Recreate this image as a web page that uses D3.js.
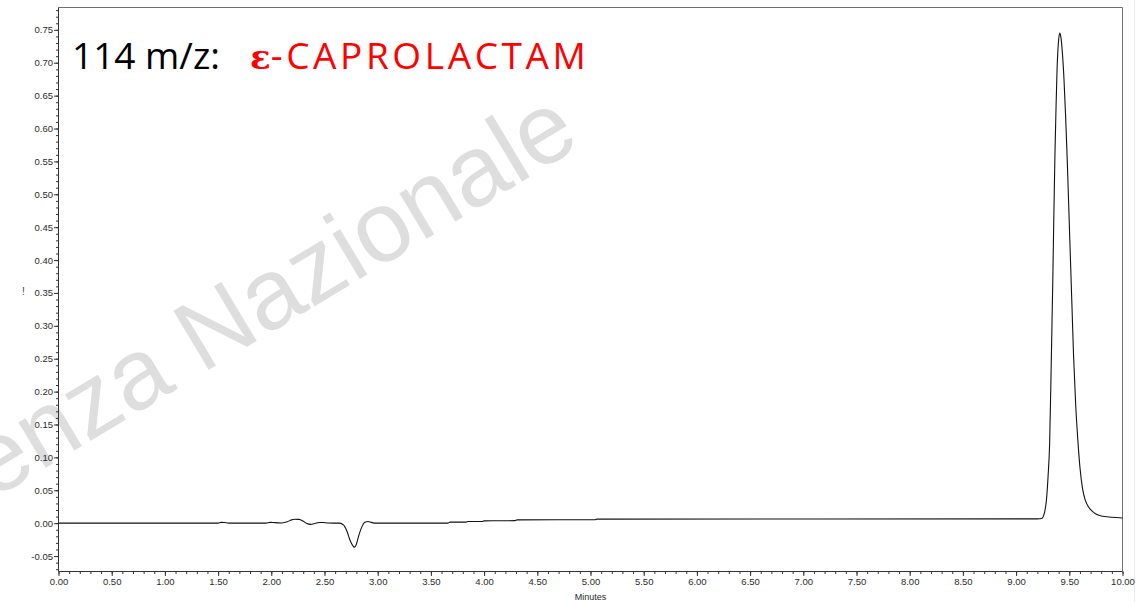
<!DOCTYPE html>
<html>
<head>
<meta charset="utf-8">
<script src="https://cdn.jsdelivr.net/npm/d3@7"></script>
<style>
  body { margin: 0; background: #fff; }
  svg { display: block; }
</style>
</head>
<body>
<div id="chart"></div>
<script>
// Chromatogram trace: retention time (minutes) and signal
const times = [0, 1.50, 1.53, 1.56, 1.60, 1.95, 1.99, 2.02, 2.06, 2.10, 2.15, 2.19, 2.22, 2.26, 2.30, 2.33, 2.37, 2.41, 2.45, 2.49, 2.53, 2.64,
  2.68, 2.71, 2.74, 2.765, 2.78, 2.795, 2.82, 2.85, 2.88, 2.91, 2.94, 2.98, 3.66, 3.68, 3.83, 3.85, 3.98, 4.00, 4.29, 4.31, 5.04, 5.06,
  9.20, 9.24, 9.265, 9.285, 9.30, 9.315, 9.33, 9.345, 9.355, 9.365, 9.375, 9.385, 9.40, 9.41, 9.42, 9.435, 9.45, 9.465, 9.48, 9.495,
  9.51, 9.525, 9.54, 9.56, 9.58, 9.60, 9.625, 9.65, 9.68, 9.71, 9.75, 9.80, 9.90, 10.0]
const signal = [0, 0, 0.0012, 0.001, 0, 0, 0.0012, 0.001, 0.0005, 0.0003, 0.002, 0.005, 0.006, 0.0058, 0.003, 0.0, -0.0018, -0.0005, 0.001, 0.001, 0.0002, 0,
  -0.003, -0.012, -0.026, -0.034, -0.0365, -0.034, -0.02, -0.006, 0.0015, 0.0025, 0.0012, 0, 0, 0.0015, 0.0015, 0.0025, 0.0025, 0.0035, 0.0038, 0.005, 0.0052, 0.0062,
  0.0065, 0.0072, 0.015, 0.035, 0.07, 0.12, 0.24, 0.37, 0.47, 0.56, 0.63, 0.69, 0.735, 0.745, 0.74, 0.715, 0.675, 0.62, 0.555, 0.48,
  0.405, 0.33, 0.255, 0.18, 0.127, 0.085, 0.052, 0.035, 0.025, 0.019, 0.014, 0.011, 0.009, 0.0078]

// Axis ticks
const xTicks = [0, 0.5, 1, 1.5, 2, 2.5, 3, 3.5, 4, 4.5, 5, 5.5, 6, 6.5, 7, 7.5, 8, 8.5, 9, 9.5, 10]
const yTicks = [-0.05, 0, 0.05, 0.1, 0.15, 0.2, 0.25, 0.3, 0.35, 0.4, 0.45, 0.5, 0.55, 0.6, 0.65, 0.7, 0.75]
const xLabel = "Minutes"
const titleMass = "114 m/z:"
const titleEps = "\u03b5"
const titleName = "-CAPROLACTAM"
const watermark = "enza Nazionale"

const WIDTH = 1147
const HEIGHT = 602
const PLOT = {LEFT: 58.5, RIGHT: 1122.5, TOP: 7.5, BOTTOM: 571.5}

const data = times.map((t, i) => ({t: t, v: signal[i]}))

let svg = d3.select("#chart").append("svg")
    .attr("width", WIDTH)
    .attr("height", HEIGHT)

// watermark behind everything
svg.append("text")
    .attr("transform", "translate(-8,500) rotate(-31)")
    .attr("font-family", "Liberation Sans, Arial, sans-serif")
    .attr("font-size", 100)
    .attr("fill", "#dedede")
    .text(watermark)

// faint outer edge on the right
svg.append("line")
    .attr("x1", 1134.5).attr("x2", 1134.5)
    .attr("y1", 0).attr("y2", HEIGHT)
    .attr("stroke", "#ececec")

let xScale = d3.scaleLinear()
    .domain([0, 10])
    .range([PLOT.LEFT, PLOT.RIGHT])

let yScale = d3.scaleLinear()
    .domain([-0.0735, 0.784])
    .range([PLOT.BOTTOM, PLOT.TOP])

// plot frame (top and right)
svg.append("path")
    .attr("d", `M${PLOT.LEFT},${PLOT.TOP}H${PLOT.RIGHT}V${PLOT.BOTTOM}`)
    .attr("fill", "none")
    .attr("stroke", "#6f6f6f")

const fmt = d => d.toFixed(2)

// minor ticks
svg.append("g")
    .attr("transform", `translate(0,${PLOT.BOTTOM})`)
    .call(d3.axisBottom(xScale).tickValues(d3.range(0, 10.01, 0.1)).tickSize(2.5).tickFormat(""))
    .call(g => g.select(".domain").remove())
svg.append("g")
    .attr("transform", `translate(${PLOT.LEFT},0)`)
    .call(d3.axisLeft(yScale).tickValues(d3.range(-0.07, 0.781, 0.01)).tickSize(2.5).tickFormat(""))
    .call(g => g.select(".domain").remove())

// major axes
let xAxis = svg.append("g")
    .attr("transform", `translate(0,${PLOT.BOTTOM})`)
    .call(d3.axisBottom(xScale).tickValues(xTicks).tickSize(4.5).tickSizeOuter(0).tickPadding(2).tickFormat(fmt))
let yAxis = svg.append("g")
    .attr("transform", `translate(${PLOT.LEFT},0)`)
    .call(d3.axisLeft(yScale).tickValues(yTicks).tickSize(4.5).tickSizeOuter(0).tickPadding(1).tickFormat(fmt))

yAxis.select(".domain").attr("d", `M0,${PLOT.TOP}V${PLOT.BOTTOM}`)
xAxis.select(".domain").attr("d", `M${PLOT.LEFT},0H${PLOT.RIGHT}`)

svg.selectAll(".tick line").attr("stroke", "#333")
svg.selectAll(".domain").attr("stroke", "#333")
svg.selectAll(".tick text")
    .attr("font-family", "Liberation Sans, Arial, sans-serif")
    .attr("font-size", 9.5)
    .attr("fill", "#2a2a2a")

// axis titles
svg.append("text")
    .attr("x", (PLOT.LEFT + PLOT.RIGHT) / 2)
    .attr("y", 600)
    .attr("text-anchor", "middle")
    .attr("font-family", "Liberation Sans, Arial, sans-serif")
    .attr("font-size", 9)
    .attr("fill", "#2a2a2a")
    .text(xLabel)

svg.append("text")
    .attr("x", 22)
    .attr("y", 295)
    .attr("font-family", "Liberation Sans, Arial, sans-serif")
    .attr("font-size", 10)
    .attr("fill", "#2040a0")
    .text("!")

// the trace
let line = d3.line()
    .x(d => xScale(d.t))
    .y(d => yScale(d.v))
    .curve(d3.curveMonotoneX)

svg.append("path")
    .datum(data)
    .attr("d", line)
    .attr("fill", "none")
    .attr("stroke", "#111")
    .attr("stroke-width", 1.1)

// title
let title = svg.append("text")
    .attr("x", 72)
    .attr("y", 69)
    .attr("font-family", "Open Sans, sans-serif")
    .attr("font-size", 37)
title.append("tspan").attr("fill", "#000").text(titleMass)
title.append("tspan").attr("dx", 30).attr("fill", "#ff0000")
    .attr("font-family", "DejaVu Serif, serif").attr("font-weight", "bold").attr("font-size", 34)
    .text(titleEps)
title.append("tspan").attr("fill", "#ff0000").attr("letter-spacing", 3.6).text(titleName)
</script>
</body>
</html>
